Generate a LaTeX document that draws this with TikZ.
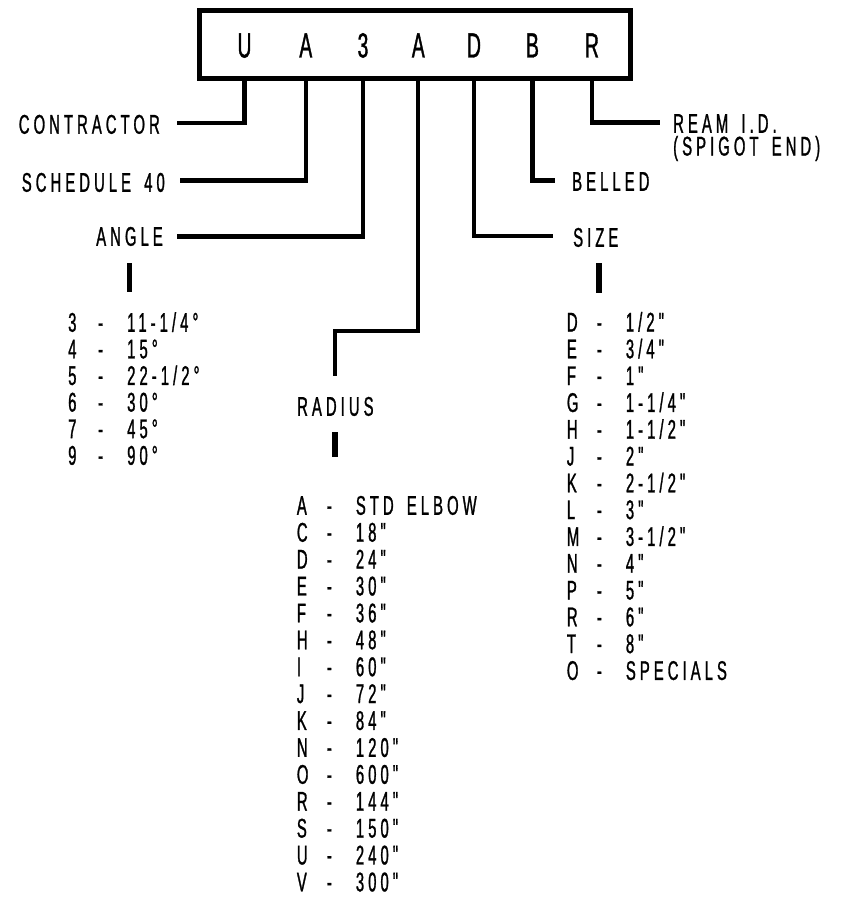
\documentclass[tikz,border=0pt]{standalone}
\usepackage{fontspec}
\newfontfamily\cad[FakeStretch=0.55,LetterSpace=15,FakeBold=1]{Liberation Sans}
\newcommand\lblfont{\cad\fontsize{27}{30}\selectfont}
\newcommand\hdrfont{\cad\fontsize{35}{40}\selectfont}
\newcommand\gap{\hspace{5pt}}
\newcommand\rowtxt[2]{\makebox[30pt][l]{#1}\makebox[29pt][l]{-}#2}
\newcommand\twolines[2]{\vtop{\baselineskip=22.75pt\lineskiplimit=-100pt\hbox{#1}\hbox{#2}}}
\tikzset{
  lbl/.style={font=\lblfont, inner sep=0pt},
  hdr/.style={font=\hdrfont, inner sep=0pt, anchor=base},
  conn/.style={line width=4.2pt, line join=miter},
  barst/.style={line width=5.5pt},
  codebox/.style={draw, line width=4.5pt, minimum width=431pt, minimum height=68pt, inner sep=0pt}
}
\begin{document}
\begin{tikzpicture}[x=1pt,y=-1pt]
\useasboundingbox[fill=white] (0,0) rectangle (842,899);
% code box
\node[codebox] (box) at (415,44.5) {};
\node[hdr] (l1) at (244.5,57.5) {U};
\node[hdr] (l2) at (305.8,57.5) {A};
\node[hdr] (l3) at (363,57.5) {3};
\node[hdr] (l4) at (418.3,57.5) {A};
\node[hdr] (l5) at (474,57.5) {D};
\node[hdr] (l6) at (532.5,57.5) {B};
\node[hdr] (l7) at (592,57.5) {R};
% left labels
\node[lbl, anchor=base east] (contractor) at (160,133.7) {CONTRACTOR};
\node[lbl, anchor=base east] (schedule) at (165,191.75) {SCHEDULE \gap40};
\node[lbl, anchor=base east] (angle) at (163,245.75) {ANGLE};
% right labels
\node[lbl, anchor=base west] (ream) at (673,132.75) {\twolines{REAM \gap I.D.}{(SPIGOT \gap END)}};
\node[lbl, anchor=base west] (belled) at (572,190.75) {BELLED};
\node[lbl, anchor=base west] (size) at (573,246.75) {SIZE};
\node[lbl, anchor=base west] (radius) at (297,415.75) {RADIUS};
% connectors
\draw[conn] (l1 |- box.south) |- ([xshift=16.7pt,yshift=1.5pt]contractor.east);
\draw[conn] (l2 |- box.south) |- ([xshift=15pt,yshift=2pt]schedule.east);
\draw[conn] (l3 |- box.south) |- ([xshift=13.7pt]angle.east);
\coordinate (rbend) at (334.7,331);
\coordinate (rend) at (334.7,376);
\draw[conn] (l4 |- box.south) |- (rbend) -- (rend);
\draw[conn] (l5 |- box.south) |- ([xshift=-20pt,yshift=1.5pt]size.west);
\draw[conn] (l6 |- box.south) |- ([xshift=-17pt,yshift=1pt]belled.west);
\draw[conn] (l7 |- box.south) |- ([xshift=-13pt,yshift=10.25pt]ream.base west);
% bars
\coordinate (ab1) at (129.7,263); \coordinate (ab2) at (129.7,292);
\coordinate (sb1) at (599,263);   \coordinate (sb2) at (599,293);
\coordinate (rb1) at (335,432);   \coordinate (rb2) at (335,457);
\draw[barst] (ab1) -- (ab2);
\draw[barst] (sb1) -- (sb2);
\draw[barst] (rb1) -- (rb2);
% angle list
\foreach \k/\v [count=\i] in {3/{11-1/4°},4/{15°},5/{22-1/2°},6/{30°},7/{45°},9/{90°}}
  \node[lbl, anchor=base west] (ang\i) at (68,{331.75+26.6*(\i-1)}) {\rowtxt{\k}{\v}};
% size list
\foreach \k/\v [count=\i] in {D/{1/2"},E/{3/4"},F/{1"},G/{1-1/4"},H/{1-1/2"},J/{2"},K/{2-1/2"},L/{3"},M/{3-1/2"},N/{4"},P/{5"},R/{6"},T/{8"},O/{SPECIALS}}
  \node[lbl, anchor=base west] (siz\i) at (566.7,{331.5+26.8*(\i-1)}) {\rowtxt{\k}{\v}};
% radius list
\foreach \k/\v [count=\i] in {A/{STD \gap ELBOW},C/{18"},D/{24"},E/{30"},F/{36"},H/{48"},I/{60"},J/{72"},K/{84"},N/{120"},O/{600"},R/{144"},S/{150"},U/{240"},V/{300"}}
  \node[lbl, anchor=base west] (rad\i) at (296.7,{514.75+26.9*(\i-1)}) {\rowtxt{\k}{\v}};
\end{tikzpicture}
\end{document}
